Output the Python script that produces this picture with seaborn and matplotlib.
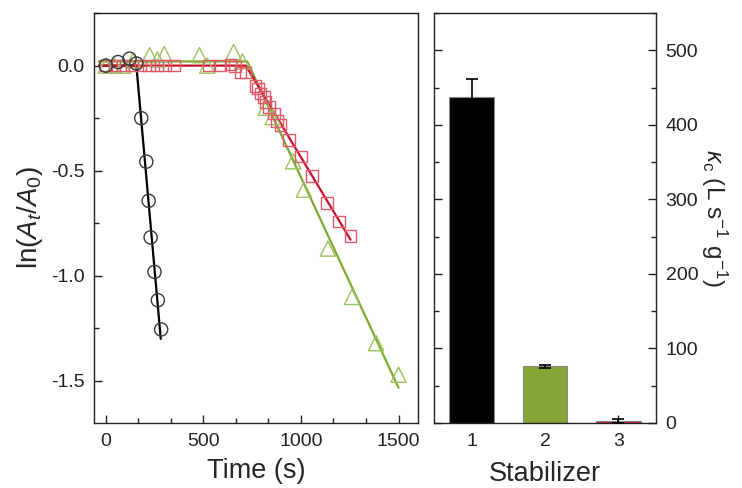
import numpy as np
import pandas as pd
import matplotlib
matplotlib.use("Agg")
import matplotlib.pyplot as plt
from matplotlib.ticker import MultipleLocator
import seaborn as sns

# ---- data: kinetics (left panel) ----
t_black = [0, 63, 122, 157, 182, 208, 220, 230, 250, 267, 284]
y_black = [0.0, 0.017, 0.033, 0.01, -0.25, -0.457, -0.643, -0.817, -0.981, -1.116, -1.255]

t_red = [0, 45, 90, 135, 178, 221, 264, 305, 350, 530, 585, 640, 662, 690, 716,
         767, 779, 793, 810, 818, 835, 861, 878, 896, 939, 1000, 1058, 1135, 1194, 1254]
y_red = [0, 0, 0, 0, 0, 0, 0, 0, 0, 0, 0, 0.005, -0.005, -0.033, -0.033,
         -0.097, -0.109, -0.133, -0.149, -0.172, -0.196, -0.227, -0.264, -0.281, -0.353,
         -0.432, -0.525, -0.654, -0.741, -0.81]

t_green = [0, 45, 90, 140, 225, 265, 300, 480, 520, 655, 700, 820, 855, 960, 1015,
           1138, 1262, 1385, 1500]
y_green = [0.0, 0.0, 0.0, 0.025, 0.05, 0.03, 0.055, 0.05, 0.0, 0.065, 0.02, -0.20,
           -0.245, -0.455, -0.59, -0.87, -1.10, -1.32, -1.47]

# linear-segment fits
fit_black_t = [-30, 157, 282]
fit_black_y = [0.0, 0.0, -1.30]
fit_red_t = [-35, 718, 1254]
fit_red_y = [0.0, 0.0, -0.828]
fit_green_t = [-35, 725, 1500]
fit_green_y = [0.02, 0.02, -1.532]

# ---- data: rate constants (right panel) ----
stabilizers = ["1", "2", "3"]
kappa = [437, 76, 3]
kappa_err = [24, 2, 3]

c_black = "#000000"
c_green = "#85A636"
c_red = "#C8102E"

sns.set_theme(style="ticks")
plt.rcParams["font.family"] = ["Liberation Sans", "DejaVu Sans"]
plt.rcParams["mathtext.fontset"] = "custom"
plt.rcParams["mathtext.rm"] = "Liberation Sans"
plt.rcParams["mathtext.it"] = "Liberation Sans:italic"
plt.rcParams["mathtext.bf"] = "Liberation Sans:bold"
plt.rcParams["axes.edgecolor"] = "#222222"
plt.rcParams["axes.linewidth"] = 1.0

fig = plt.figure(figsize=(7.42, 4.88), dpi=100)
ax1 = fig.add_axes([0.1267, 0.1332, 0.4367, 0.840])
ax2 = fig.add_axes([0.585, 0.1332, 0.299, 0.840])

# left panel
sns.lineplot(x=fit_black_t, y=fit_black_y, ax=ax1, color=c_black, lw=1.6, sort=False)
sns.lineplot(x=fit_green_t, y=fit_green_y, ax=ax1, color="#7DAA2F", lw=1.6, sort=False)
sns.lineplot(x=fit_red_t, y=fit_red_y, ax=ax1, color=c_red, lw=1.6, sort=False)

sns.scatterplot(x=t_green, y=y_green, ax=ax1, marker="^", s=120, facecolors="none",
                edgecolor="#9CC35F", linewidth=1.0, zorder=3)
sns.scatterplot(x=t_red, y=y_red, ax=ax1, marker="s", s=70, facecolors="none",
                edgecolor="#DE5A6A", linewidth=1.0, zorder=4)
sns.scatterplot(x=t_black, y=y_black, ax=ax1, marker="o", s=90, facecolors="none",
                edgecolor="#3A3A3A", linewidth=1.0, zorder=5)

ax1.set_xlim(-60, 1600)
ax1.set_ylim(-1.7, 0.25)
ax1.set_xticks([0, 500, 1000, 1500])
ax1.set_yticks([0.0, -0.5, -1.0, -1.5])
ax1.set_yticklabels(["0.0", "-0.5", "-1.0", "-1.5"])
ax1.xaxis.set_minor_locator(MultipleLocator(500 / 3))
ax1.yaxis.set_minor_locator(MultipleLocator(0.25))
ax1.tick_params(axis="both", which="major", direction="in", length=6, width=1,
                labelsize=14, pad=7, colors="#222222")
ax1.tick_params(axis="both", which="minor", direction="in", length=3.5, width=1,
                colors="#222222")
ax1.set_xlabel("Time (s)", fontsize=19.5, labelpad=6)
ax1.set_ylabel(r"ln($A_t$/$A_0$)", fontsize=20, labelpad=4)

# right panel
df = pd.DataFrame({"stabilizer": stabilizers, "kappa": kappa})
sns.barplot(data=df, x="stabilizer", y="kappa", hue="stabilizer",
            palette=[c_black, c_green, c_red], legend=False, ax=ax2, width=0.6,
            edgecolor="#888888", linewidth=0.8, errorbar=None, saturation=1)
ax2.errorbar(x=np.arange(len(stabilizers)), y=kappa, yerr=kappa_err, fmt="none",
             ecolor="black", elinewidth=1.2, capsize=4, capthick=1.2, zorder=5)
ax2.set_xlim(-0.51, 2.51)
ax2.set_ylim(0, 550)
ax2.yaxis.tick_right()
ax2.yaxis.set_label_position("right")
ax2.set_yticks([0, 100, 200, 300, 400, 500])
ax2.yaxis.set_minor_locator(MultipleLocator(50))
ax2.tick_params(axis="y", which="both", left=True, right=True, direction="in")
ax2.tick_params(axis="both", which="major", direction="in", length=6, width=1,
                labelsize=14, pad=7, colors="#222222")
ax2.tick_params(axis="y", which="minor", direction="in", length=3.5, width=1,
                colors="#222222")
ax2.set_xlabel("Stabilizer", fontsize=19.5, labelpad=8)
ax2.set_ylabel(r"$\kappa_\mathrm{c}$ (L s$^{-1}$ g$^{-1}$)", fontsize=17.5,
               rotation=270, labelpad=22)

for ax in (ax1, ax2):
    for sp in ax.spines.values():
        sp.set_visible(True)
        sp.set_color("#222222")

fig.savefig("out.png", dpi=100)
